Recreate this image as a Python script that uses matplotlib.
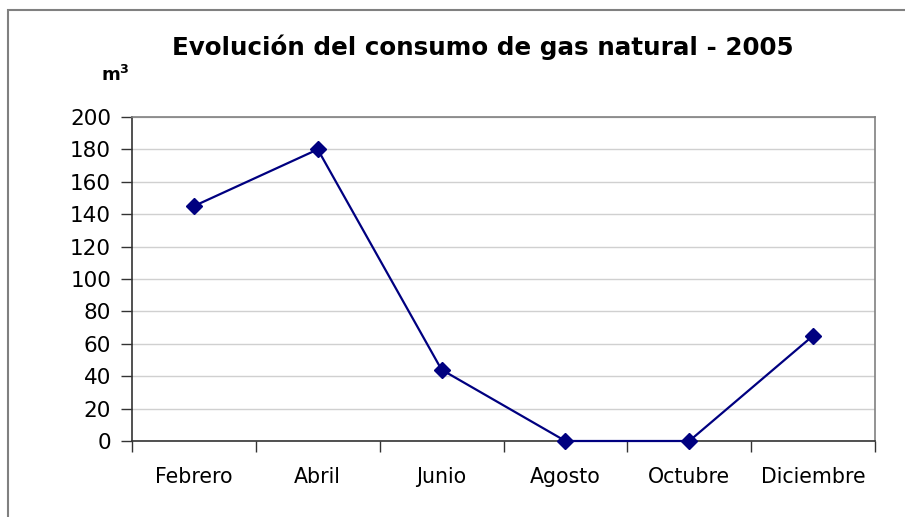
import numpy as np
import matplotlib.pyplot as plt
from matplotlib.patches import Rectangle

# datos
meses = ['Febrero', 'Abril', 'Junio', 'Agosto', 'Octubre', 'Diciembre']
consumo = [145, 180, 44, 0, 0, 65]
y_ticks = [0, 20, 40, 60, 80, 100, 120, 140, 160, 180, 200]

W, H = 905, 517
fig = plt.figure(figsize=(W / 100, H / 100), dpi=100)

# borde del grafico (cortado a la derecha y abajo)
fig.patches.append(Rectangle((8 / W, -0.1), 1.2, (H - 10) / H + 0.1,
                             transform=fig.transFigure, fill=False,
                             edgecolor='#808080', linewidth=1.5))

left, right, top, bottom = 132, 875, 117, 441
ax = fig.add_axes([left / W, 1 - bottom / H, (right - left) / W, (bottom - top) / H])

x = np.arange(len(meses))
ax.plot(x, consumo, color='#000080', linewidth=1.6, marker='D', markersize=8,
        zorder=3, clip_on=False)

ax.set_xlim(-0.5, len(meses) - 0.5)
ax.set_ylim(0, 200)
ax.set_yticks(y_ticks)
ax.set_yticklabels([str(v) for v in y_ticks], fontsize=15.5)
ax.set_xticks(x)
ax.set_xticklabels(meses, fontsize=14.8)
ax.set_xticks(np.arange(len(meses) + 1) - 0.5, minor=True)

ax.tick_params(axis='x', which='major', length=0, pad=19)
ax.tick_params(axis='x', which='minor', length=8, width=1, color='#333333')
ax.tick_params(axis='y', length=8, width=1, color='#333333', pad=7)

ax.grid(axis='y', color='#d0d0d0', linewidth=1)
ax.set_axisbelow(True)
for s in ['top', 'right']:
    ax.spines[s].set_color('#808080')
    ax.spines[s].set_linewidth(1.2)
for s in ['left', 'bottom']:
    ax.spines[s].set_color('#333333')
    ax.spines[s].set_linewidth(1.2)

fig.text(483 / W, 1 - 47 / H, 'Evolución del consumo de gas natural - 2005',
         fontsize=17.7, fontweight='bold', ha='center', va='center')
fig.text(115 / W, 1 - 75 / H, 'm$^\\mathbf{3}$', fontsize=13, fontweight='bold',
         ha='center', va='center')

plt.savefig('out.png', dpi=100)
